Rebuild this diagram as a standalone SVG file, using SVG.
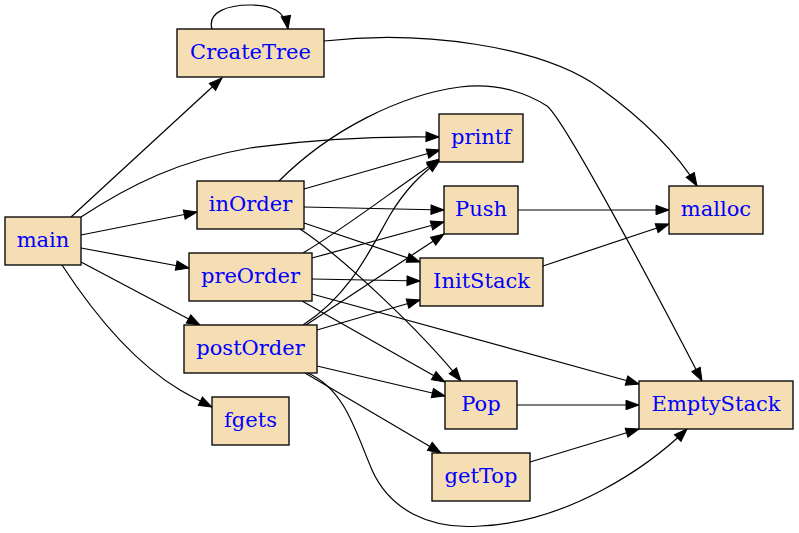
<svg xmlns="http://www.w3.org/2000/svg" width="799" height="533" viewBox="0 0 799 533">
<style>
.n rect{fill:#f5deb3;stroke:#000;stroke-width:1.33}
.n text{font-family:"DejaVu Serif",serif;font-size:21px;fill:#0000ff;text-anchor:middle}
#edges path{fill:none;stroke:#000;stroke-width:1.2;marker-end:url(#ah)}
</style>
<defs>
<marker id="ah" markerUnits="userSpaceOnUse" markerWidth="14" markerHeight="10" refX="13" refY="4.7" orient="auto" overflow="visible"><path d="M0,0 L13,4.7 L0,9.4 z" fill="#000" stroke="#000" stroke-width="1"/></marker>
</defs>
<rect width="799" height="533" fill="#fff"/>
<g id="edges">
<path d="M212,29 C207,12 228,5 250,5 C272,5 285,11 288,29"/>
<path d="M324,41 C420,30 540,45 600,88 C640,117 675,150 697,186"/>
<path d="M71,217 L222,78"/>
<path d="M81,217 C130,185 180,160 250,148 C320,138 380,136 439,137"/>
<path d="M81,235 L197,212"/>
<path d="M81,248 L189,268"/>
<path d="M81,262 L200,325"/>
<path d="M62,265 C90,308 130,360 180,390 C192,397 200,401 212,407"/>
<path d="M304,189 L440,150"/>
<path d="M279,181 C330,130 400,95 460,87 C500,82 530,95 547,106 C565,120 660,300 702,381"/>
<path d="M304,207 L444,210"/>
<path d="M304,223 L420,262"/>
<path d="M300,229 C340,255 420,330 461,381"/>
<path d="M303,253 C350,225 400,185 440,159"/>
<path d="M312,258 L444,222"/>
<path d="M312,279 L420,281"/>
<path d="M312,294 L639,384"/>
<path d="M302,301 L445,382"/>
<path d="M303,325 C350,295 370,250 390,215 C405,190 420,175 440,160"/>
<path d="M306,325 L444,234"/>
<path d="M317,330 L420,300"/>
<path d="M317,366 L445,396"/>
<path d="M305,373 L441,453"/>
<path d="M308,373 C345,390 355,430 372,470 C390,510 430,530 480,526 C570,522 650,465 687,429"/>
<path d="M518,210 L669,210"/>
<path d="M543,266 L669,224"/>
<path d="M517,405 L639,405"/>
<path d="M530,462 L639,429"/>
</g>
<g id="CreateTree" class="n"><rect x="177" y="29" width="147" height="48"/><text x="250.5" y="58.5">CreateTree</text></g>
<g id="main" class="n"><rect x="5" y="217" width="76" height="48"/><text x="43" y="246.5">main</text></g>
<g id="inOrder" class="n"><rect x="197" y="181" width="107" height="48"/><text x="250.5" y="210.5">inOrder</text></g>
<g id="preOrder" class="n"><rect x="189" y="253" width="123" height="48"/><text x="250.5" y="282.5">preOrder</text></g>
<g id="postOrder" class="n"><rect x="184" y="325" width="133" height="48"/><text x="250.5" y="354.5">postOrder</text></g>
<g id="fgets" class="n"><rect x="212" y="397" width="77" height="48"/><text x="250.5" y="426.5">fgets</text></g>
<g id="printf" class="n"><rect x="439" y="114" width="84" height="48"/><text x="481" y="143.5">printf</text></g>
<g id="Push" class="n"><rect x="444" y="186" width="74" height="48"/><text x="481" y="215.5">Push</text></g>
<g id="InitStack" class="n"><rect x="420" y="258" width="123" height="48"/><text x="481.5" y="287.5">InitStack</text></g>
<g id="Pop" class="n"><rect x="445" y="381" width="72" height="48"/><text x="481" y="410.5">Pop</text></g>
<g id="getTop" class="n"><rect x="432" y="453" width="98" height="48"/><text x="481" y="482.5">getTop</text></g>
<g id="malloc" class="n"><rect x="669" y="186" width="94" height="48"/><text x="716" y="215.5">malloc</text></g>
<g id="EmptyStack" class="n"><rect x="639" y="381" width="154" height="48"/><text x="716" y="410.5">EmptyStack</text></g>
</svg>
